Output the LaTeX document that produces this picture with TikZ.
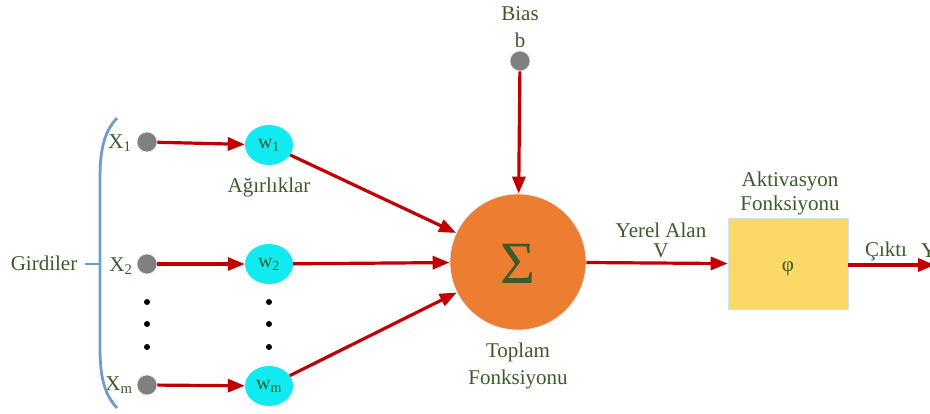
\documentclass[tikz,border=0pt]{standalone}
\usepackage{fontspec}
\setmainfont{Liberation Serif}
\usetikzlibrary{arrows.meta,shapes.geometric}
\definecolor{txtgreen}{HTML}{3B5A2A}
\definecolor{linkred}{HTML}{C00000}
\definecolor{sumorange}{HTML}{ED7D31}
\definecolor{wcyan}{HTML}{12EAF2}
\definecolor{dotgray}{HTML}{808080}
\definecolor{bracecol}{HTML}{6F9BD0}
\definecolor{boxyellow}{HTML}{FCD868}
\begin{document}
\begin{tikzpicture}[x=1pt,y=-1pt,
  lbl/.style={text=txtgreen,font=\fontsize{21}{24}\selectfont,inner sep=0pt},
  inpt/.style={circle,fill=dotgray,draw=white!85!dotgray,line width=0.6pt,minimum size=20pt,inner sep=0pt},
  wnode/.style={ellipse,fill=wcyan,minimum width=48pt,minimum height=40pt,inner sep=0pt,text=txtgreen,font=\fontsize{20}{23}\selectfont},
  sumnode/.style={circle,fill=sumorange,draw=white!75!bracecol,line width=0.8pt,minimum size=136pt,inner sep=0pt},
  actbox/.style={rectangle,fill=boxyellow,draw=white!70!bracecol,line width=0.6pt,minimum width=120pt,minimum height=91pt,inner sep=0pt},
  vdot/.style={circle,fill=black,minimum size=6pt,inner sep=0pt},
  link/.style={draw=linkred,line width=3.2pt,-{Triangle[length=17pt,width=13pt]}}]
\useasboundingbox (0,0) rectangle (930,414);
\clip (0,0) rectangle (930,414);

% inputs
\node[inpt] (x1) at (147,142) {};
\node[inpt] (x2) at (147,264) {};
\node[inpt] (xm) at (147,385) {};
\node[lbl] (lx1) at (120,143) {X\textsubscript{1}};
\node[lbl] (lx2) at (121,266) {X\textsubscript{2}};
\node[lbl] (lxm) at (119,385) {X\textsubscript{m}};

% bracket grouping the inputs
\draw[bracecol,line width=2.8pt] (117,118) .. controls (104,132) and (100,150) .. (100,178)
  -- (100,348) .. controls (100,376) and (104,394) .. (117,408);
\coordinate (bracemid) at (100,264);
\coordinate (bracetick) at (85,264);
\draw[bracecol,line width=2.8pt] (bracetick) -- (bracemid);
\node[lbl] (girdi) at (44,263) {Girdiler};

% weights
\node[wnode] (w1) at (269,145) {w\textsubscript{1}};
\node[wnode] (w2) at (269,264) {w\textsubscript{2}};
\node[wnode] (wm) at (269,386) {w\textsubscript{m}};
\node[lbl] (agir) at (269,187) {Ağırlıklar};

% ellipsis dots
\foreach \yy [count=\i] in {302,324,347} {
  \node[vdot] (da\i) at (147,\yy) {};
  \node[vdot] (db\i) at (269,\yy) {};
}

% summation
\node[sumnode] (sum) at (518,262) {};
\node[text=txtgreen,font=\fontsize{60}{66}\selectfont,inner sep=0pt] (sigma) at (518,264) {Σ};
\node[lbl] (top1) at (518,352) {Toplam};
\node[lbl] (top2) at (518,379) {Fonksiyonu};

% bias
\node[inpt] (bias) at (520,61) {};
\node[lbl] (biast) at (520,14) {Bias};
\node[lbl] (biasb) at (520,40) {b};

% activation
\node[actbox] (act) at (788,264) {};
\node[lbl] (phi) at (788,269) {φ};
\node[lbl] (akt1) at (790,181) {Aktivasyon};
\node[lbl] (akt2) at (790,205) {Fonksiyonu};
\node[lbl] (yer1) at (661,230) {Yerel Alan};
\node[lbl] (yer2) at (661,251) {V};
\coordinate (outend) at (935,265);
\node[lbl] (cikti) at (886,251) {Çıktı};
\node[lbl,anchor=west] (yout) at (921,251) {Y};

% connectors
\draw[link] (x1) -- (w1);
\draw[link] (x2) -- (w2);
\draw[link] (xm) -- (wm);
\draw[link] (w1) -- (sum);
\draw[link] (w2) -- (sum);
\draw[link] (wm) -- (sum);
\draw[link] (bias) -- (sum);
\draw[link] (sum) -- (act);
\draw[link] (act.east |- 0,265) -- (outend);
\end{tikzpicture}
\end{document}
